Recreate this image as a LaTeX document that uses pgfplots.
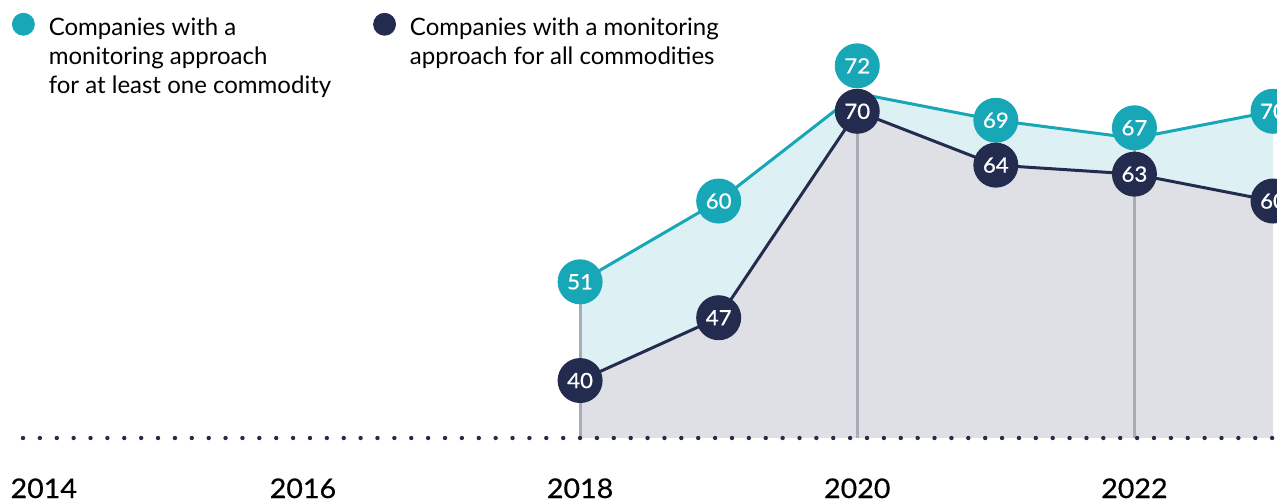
\documentclass[border=0pt]{standalone}
\usepackage{fontspec}
\setmainfont{Lato}
\newfontfamily\medfont[FakeBold=0.6,FakeStretch=1.06]{Lato}
\usepackage{pgfplots}
\usepackage{pgfplotstable}
\pgfplotsset{compat=1.18}

\definecolor{tealc}{HTML}{17A7B7}
\definecolor{navy}{HTML}{232C4E}
\definecolor{lteal}{HTML}{DDF1F4}
\definecolor{lgray}{HTML}{DFE0E5}
\definecolor{vline}{HTML}{A9ABB9}

% teal = at least one commodity, navy = all commodities; dy lifts a label (pt)
\pgfplotstableread{
x    y  lbl dy
2018 51 51  0
2019 60 60  0
2020 72 72  13.75
2021 69 69  0
2022 67 67  5.2
2023 70 70  0
}\tealtab
\pgfplotstableread{
x    y  lbl dy
2018 40 40  0
2019 47 47  0
2020 70 70  0
2021 64 64  0
2022 63 63  0
2023 60 60  0
}\navytab

\pgfplotsset{
  legteal/.style={legend image code/.code={\fill[tealc] (5.5pt,16.6pt) circle (5.5pt);}},
  legnavy/.style={legend image code/.code={\fill[navy] (5.5pt,16.6pt) circle (5.5pt);}},
  lblcirc/.style={draw=none, point meta=explicit symbolic,
    visualization depends on={\thisrow{dy}\as\dy},
    nodes near coords,
    every node near coord/.append style={circle, fill=#1, text=white,
      minimum size=22.5pt, inner sep=0pt, anchor=center, yshift=\dy pt,
      font=\medfont\fontsize{10.5}{12}\selectfont}},
}

\begin{document}
\begin{tikzpicture}
\useasboundingbox (0,0) rectangle (638.5pt,251pt);
\clip (0,0) rectangle (638.5pt,251pt);
\begin{axis}[
  at={(11.5pt,32pt)}, anchor=south west,
  scale only axis, width=625pt, height=219pt,
  xmin=2013.98, xmax=2023, ymin=33.6, ymax=82.4,
  clip=false,
  axis line style={draw=none},
  major tick length=0pt,
  ytick=\empty,
  xtick={2014.13,2016,2018,2020,2022},
  xticklabels={2014,2016,2018,2020,2022},
  xticklabel style={anchor=base, yshift=-30pt, font=\medfont\fontsize{13.5}{15}\selectfont},
  legend columns=2,
  legend style={at={(-0.0088,0.9706)}, anchor=north west, draw=none, fill=none,
    inner sep=0pt, outer sep=0pt,
    font=\fontsize{12}{14.5}\selectfont,
    nodes={inner sep=0pt, align=left},
    /tikz/every odd column/.append style={column sep=7pt},
    /tikz/every even column/.append style={column sep=21pt}},
]
% areas
\addplot[forget plot, fill=lteal, draw=none] coordinates
  {(2018,33.6)(2018,51)(2019,60)(2020,72)(2021,69)(2022,67)(2023,70)(2023,33.6)} -- cycle;
\addplot[forget plot, fill=lgray, draw=none] coordinates
  {(2018,33.6)(2018,40)(2019,47)(2020,70)(2021,64)(2022,63)(2023,60)(2023,33.6)} -- cycle;
% guide lines
\addplot[forget plot, vline, line width=1.5pt] coordinates {(2018,33.6)(2018,51)};
\addplot[forget plot, vline, line width=1.5pt] coordinates {(2020,33.6)(2020,72)};
\addplot[forget plot, vline, line width=1.5pt] coordinates {(2022,33.6)(2022,67)};
% dotted baseline
\addplot[forget plot, navy, line width=2.2pt, line cap=round, dash pattern=on 0pt off 8.44pt]
  coordinates {(2013.98,33.6)(2023,33.6)};
% series
\addplot[forget plot, tealc, line width=1.5pt] table[x=x, y=y] {\tealtab};
\addplot[forget plot, navy, line width=1.5pt] table[x=x, y=y] {\navytab};
\addplot[forget plot, lblcirc=tealc] table[x=x, y=y, meta=lbl] {\tealtab};
\addplot[forget plot, lblcirc=navy] table[x=x, y=y, meta=lbl] {\navytab};

\addlegendimage{legteal}
\addlegendentry{Companies with a\\monitoring approach\\for at least one commodity}
\addlegendimage{legnavy}
\addlegendentry{Companies with a monitoring\\approach for all commodities\\\phantom{y}}
\end{axis}
\end{tikzpicture}
\end{document}
